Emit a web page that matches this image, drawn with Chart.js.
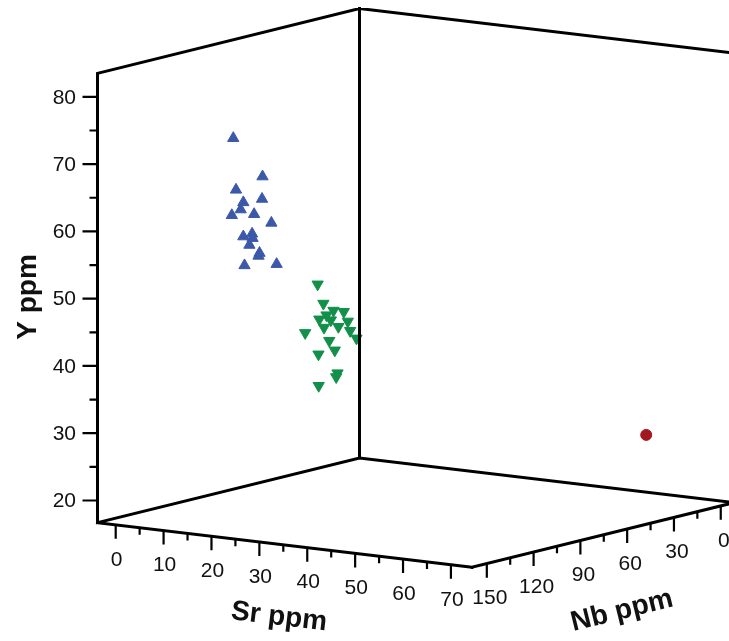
<!DOCTYPE html>
<html>
<head>
<meta charset="utf-8">
<script src="https://cdn.jsdelivr.net/npm/chart.js@4.4.0/dist/chart.umd.min.js"></script>
<style>
  html, body { margin: 0; padding: 0; background: #fff; }
  #wrap { width: 729px; height: 641px; position: relative; }
</style>
</head>
<body>
<div id="wrap"><canvas id="plot3d"></canvas></div>
<script>
// ---- data (Sr ppm, Nb ppm, Y ppm) ----
var blueSr = [18.2, 20.4, 20.4, 19.0, 21.6, 20.4, 20.5, 21.9, 21.6, 21.6, 20.5, 21.9, 21.9, 21.4, 22.5, 22.5, 24.0];
var blueNb = [140, 128, 145, 136, 132, 142, 148, 138, 126, 144, 135, 139, 141, 133, 137, 146, 130];
var blueY  = [74.6, 68.4, 67.4, 64.9, 65.4, 64.3, 63.8, 63.5, 61.5, 60.5, 60.3, 60.0, 59.1, 57.4, 57.3, 56.4, 55.8];

var greenSr = [26.7, 26.6, 27.4, 27.6, 27.9, 27.7, 27.5, 29.1, 27.7, 28.1, 28.6, 25.4, 29.6, 27.5, 28.0, 27.2, 27.6, 29.6, 27.9];
var greenNb = [112, 108, 104, 98, 110, 114, 106, 100, 111, 103, 97, 116, 96, 107, 105, 113, 102, 109, 115];
var greenY  = [52.0, 48.9, 47.7, 47.2, 47.4, 47.0, 46.4, 46.0, 45.6, 45.3, 44.4, 44.9, 43.3, 43.4, 41.9, 41.7, 38.3, 38.3, 37.2];

var redSr = [66];
var redNb = [22];
var redY  = [27.8];

var srTicks = [0, 10, 20, 30, 40, 50, 60, 70];
var nbTicks = [0, 30, 60, 90, 120, 150];
var yTicks  = [20, 30, 40, 50, 60, 70, 80];

// box extents
var srRange = [-3.8, 74.4];
var nbRange = [-8.5, 159.5];
var yRange  = [16.7, 83.5];

// oblique view of the box
var origin = {x: 97.5, y: 522.7};   // Sr min, Nb max, Y min
var srVec  = {x: 374.5, y: 44.6};
var nbVec  = {x: 262, y: -64.7};    // Nb max -> Nb min
var yLen   = 449.4;

function project(sr, nb, yv) {
  var s = (sr - srRange[0]) / (srRange[1] - srRange[0]);
  var n = (nbRange[1] - nb) / (nbRange[1] - nbRange[0]);
  var h = (yv - yRange[0]) / (yRange[1] - yRange[0]);
  return {x: origin.x + s * srVec.x + n * nbVec.x,
          y: origin.y + s * srVec.y + n * nbVec.y - h * yLen};
}

function points(srs, nbs, ys) {
  return srs.map(function(v, i) { return project(v, nbs[i], ys[i]); });
}

var GAP = {x: null, y: null};

// box edges
var A  = project(srRange[0], nbRange[1], yRange[0]);
var B  = project(srRange[1], nbRange[1], yRange[0]);
var C  = project(srRange[0], nbRange[0], yRange[0]);
var D  = project(srRange[1], nbRange[0], yRange[0]);
var At = project(srRange[0], nbRange[1], yRange[1]);
var Ct = project(srRange[0], nbRange[0], yRange[1]);
var Dt = project(srRange[1], nbRange[0], yRange[1]);
var boxEdges = [B, D, C, A, At, Ct, Dt, GAP, A, B, GAP, C, Ct];

// tick marks
var tickSegs = [];
function addTick(p, dx, dy) {
  tickSegs.push(p, {x: p.x + dx, y: p.y + dy}, GAP);
}
for (var v = 20; v <= 80; v += 5) addTick(project(srRange[0], nbRange[1], v), v % 10 ? -8 : -15, 0);
for (var v = 0; v <= 70; v += 5) addTick(project(v, nbRange[1], yRange[0]), 0, v % 10 ? 7 : 14);
for (var v = 0; v <= 150; v += 15) addTick(project(srRange[1], v, yRange[0]), 0, v % 30 ? 7 : 14);

var FONT = '"Liberation Sans", Arial, sans-serif';

var labelPlugin = {
  id: 'boxLabels',
  afterDraw: function(chart) {
    var ctx = chart.ctx, sx = chart.scales.x, sy = chart.scales.y;
    function px(p) { return {x: sx.getPixelForValue(p.x), y: sy.getPixelForValue(p.y)}; }
    ctx.save();
    ctx.fillStyle = '#111';
    ctx.font = '21px ' + FONT;

    ctx.textAlign = 'right';
    ctx.textBaseline = 'middle';
    yTicks.forEach(function(t) {
      var p = px(project(srRange[0], nbRange[1], t));
      ctx.fillText(String(t), p.x - 21.5, p.y + 1);
    });

    ctx.textAlign = 'center';
    srTicks.forEach(function(t) {
      var p = px(project(t, nbRange[1], yRange[0]));
      ctx.fillText(String(t), p.x + 1, p.y + 35);
    });
    nbTicks.forEach(function(t) {
      var p = px(project(srRange[1], t, yRange[0]));
      ctx.fillText(String(t), p.x + 3, p.y + 35);
    });

    ctx.font = 'bold 28px ' + FONT;
    function title(text, x, y, ang) {
      ctx.save();
      ctx.translate(x, y);
      ctx.rotate(ang * Math.PI / 180);
      ctx.fillText(text, 0, 0);
      ctx.restore();
    }
    title('Y ppm', 28, 297, -90);
    title('Sr ppm', 279, 617, 6.8);
    title('Nb ppm', 622, 611, -13.9);
    ctx.restore();
  }
};

var chartData = {
  type: 'scatter',
  data: {
    datasets: [
      {data: boxEdges, showLine: true, borderColor: '#000', borderWidth: 3,
       pointRadius: 0, borderJoinStyle: 'miter', borderCapStyle: 'square', order: 0},
      {data: tickSegs, showLine: true, borderColor: '#000', borderWidth: 2.2,
       pointRadius: 0, order: 0},
      {data: points(blueSr, blueNb, blueY), pointStyle: 'triangle', pointRadius: 6.5,
       backgroundColor: '#3c58a8', borderColor: '#3c58a8', borderWidth: 1, order: 1},
      {data: points(greenSr, greenNb, greenY), pointStyle: 'triangle', rotation: 180, pointRadius: 6.5,
       backgroundColor: '#12904a', borderColor: '#12904a', borderWidth: 1, order: 1},
      {data: points(redSr, redNb, redY), pointStyle: 'circle', pointRadius: 5.5,
       backgroundColor: '#a3181f', borderColor: '#a3181f', borderWidth: 1, order: 1}
    ]
  },
  options: {
    responsive: true,
    maintainAspectRatio: false,
    animation: false,
    layout: {padding: 0, autoPadding: false},
    plugins: {legend: {display: false}, tooltip: {enabled: false}},
    scales: {
      x: {type: 'linear', min: 0, max: 729, display: false},
      y: {type: 'linear', min: 0, max: 641, reverse: true, display: false}
    }
  },
  plugins: [labelPlugin]
};

window.onload = function() {
  var ctx = document.getElementById('plot3d').getContext('2d');
  new Chart(ctx, chartData);
};
</script>
</body>
</html>
